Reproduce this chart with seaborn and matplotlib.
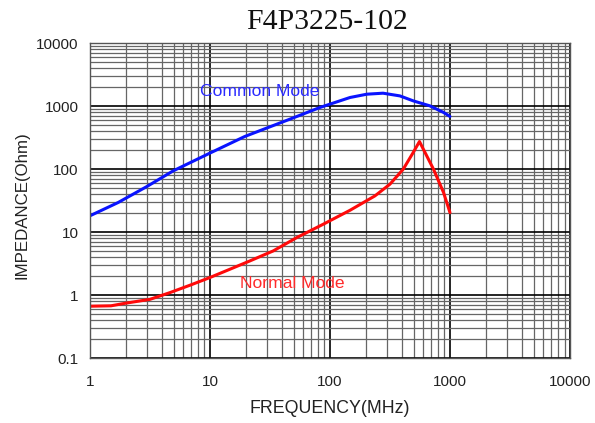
import matplotlib
matplotlib.use("Agg")
import matplotlib.pyplot as plt
import seaborn as sns
import pandas as pd
import numpy as np
from matplotlib.ticker import LogLocator, FixedLocator, NullFormatter

# Data
cm_freq = [1, 1.72, 2.98, 4.94, 10, 19.5, 31.6, 46.4, 82.5, 147, 203, 277, 383, 495, 681, 884, 1000]
cm_imp = [18.2, 29.6, 53, 94, 180, 330, 470, 622, 953, 1373, 1549, 1607, 1455, 1213, 1011, 795, 687]

nm_freq = [1, 1.5, 2, 3.16, 4.64, 6.81, 10, 14.7, 21.5, 33.7, 52.8, 88, 147, 237, 316, 408, 494, 557, 729, 884, 1000]
nm_imp = [0.67, 0.68, 0.75, 0.86, 1.10, 1.44, 1.91, 2.59, 3.5, 5.05, 8.2, 13.4, 22.3, 37.7, 57.8, 100, 184, 275, 100, 42.7, 20.5]

x_ticks = [1, 10, 100, 1000, 10000]
x_labels = ["1", "10", "100", "1000", "10000"]
y_ticks = [0.1, 1, 10, 100, 1000, 10000]
y_labels = ["0.1", "1", "10", "100", "1000", "10000"]

title = "F4P3225-102"
x_title = "FREQUENCY(MHz)"
y_title = "IMPEDANCE(Ohm)"

df = pd.concat([
    pd.DataFrame({"freq": cm_freq, "imp": cm_imp, "mode": "Common Mode"}),
    pd.DataFrame({"freq": nm_freq, "imp": nm_imp, "mode": "Normal Mode"}),
])

sns.set_style("white")
plt.rcParams["font.family"] = ["Liberation Sans", "DejaVu Sans"]

fig = plt.figure(figsize=(5.95, 4.23), dpi=100)
ax = fig.add_axes([0.151, 0.153, 0.807, 0.745])

ax.set_xscale("log")
ax.set_yscale("log")
ax.set_xlim(1, 10000)
ax.set_ylim(0.1, 10000)

# grid
ax.xaxis.set_minor_locator(LogLocator(base=10, subs=np.arange(2, 10)))
ax.yaxis.set_minor_locator(LogLocator(base=10, subs=np.arange(2, 10)))
ax.grid(which="minor", color="#666666", linewidth=0.9)
ax.grid(which="major", color="black", linewidth=1.2)
ax.set_axisbelow(True)

sns.lineplot(data=df, x="freq", y="imp", hue="mode",
             palette={"Common Mode": "#0a14ff", "Normal Mode": "#ff0a0a"},
             linewidth=2.2, legend=False, ax=ax, sort=False, estimator=None)

ax.xaxis.set_major_locator(FixedLocator(x_ticks))
ax.set_xticklabels(x_labels)
ax.yaxis.set_major_locator(FixedLocator(y_ticks))
ax.set_yticklabels(y_labels)
ax.xaxis.set_minor_formatter(NullFormatter())
ax.yaxis.set_minor_formatter(NullFormatter())
ax.tick_params(axis="both", which="both", length=0, labelsize=11, colors="#222222")
ax.tick_params(axis="x", pad=12)
ax.tick_params(axis="y", pad=8)

for s in ax.spines.values():
    s.set_color("#555555")
    s.set_linewidth(1.0)

ax.set_xlabel(x_title, fontsize=12.8, color="#222222", labelpad=8)
ax.set_ylabel(y_title, fontsize=12.2, color="#222222")
ax.yaxis.set_label_coords(-0.125, 0.486)

ax.text(8.3, 1740, "Common Mode", color="#2a2aff", fontsize=12.6, va="center", ha="left")
ax.text(17.8, 1.55, "Normal Mode", color="#ff2a2a", fontsize=12.6, va="center", ha="left")

fig.text(0.55, 0.948, title, fontsize=21.4, family=["Liberation Serif", "DejaVu Serif"],
         ha="center", va="center", color="#111111")

fig.savefig("out.png", dpi=100)
